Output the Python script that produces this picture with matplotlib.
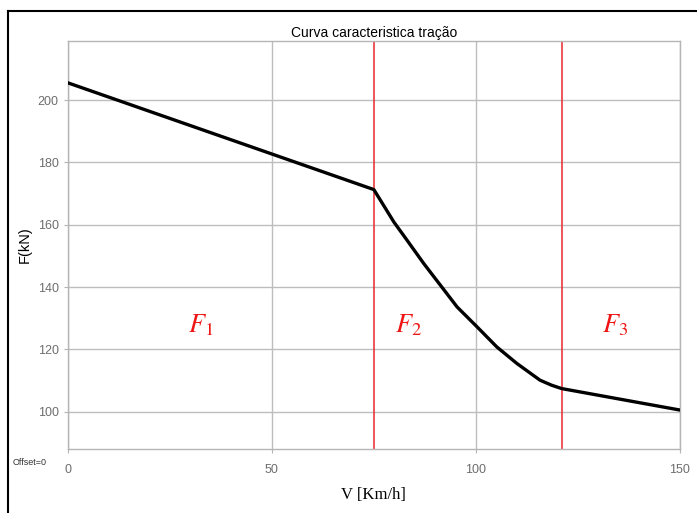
import matplotlib
matplotlib.use('Agg')
import matplotlib.pyplot as plt
from matplotlib.lines import Line2D

# traction curve
speed = [0, 75, 77.5, 79.9, 83.1, 87.2, 91.3, 95.4, 100.3, 105.1, 110.0, 115.7, 118.5, 121, 150]
force = [205.6, 171.3, 166.0, 160.9, 155.1, 147.6, 140.6, 133.6, 127.2, 120.8, 115.5, 110.1, 108.5, 107.4, 100.5]

limits = [75, 121]  # region boundaries (km/h)
region_labels = ['$F_1$', '$F_2$', '$F_3$']
region_x = [32.5, 83.4, 134]
region_y = 127.8

xticks = [0, 50, 100, 150]
yticks = [100, 120, 140, 160, 180, 200]

plt.rcParams['font.family'] = ['Liberation Sans', 'DejaVu Sans']
plt.rcParams['mathtext.fontset'] = 'stix'

fig = plt.figure(figsize=(6.97, 5.13), dpi=100)
ax = fig.add_axes([0.0971, 0.1248, 0.8785, 0.7952])

ax.plot(speed, force, color='black', linewidth=2.4, zorder=3,
        solid_joinstyle='round')
for lim in limits:
    ax.axvline(lim, color='#e8282d', linewidth=1.1, zorder=2)

for lab, x in zip(region_labels, region_x):
    ax.text(x, region_y, lab, color='#f01515', fontsize=19,
            ha='center', va='center')

ax.set_xlim(0, 150)
ax.set_ylim(88, 219)
ax.set_xticks(xticks)
ax.set_yticks(yticks)
ax.grid(True, color='#bdbdbd', linewidth=1.0)
ax.set_axisbelow(True)
for s in ax.spines.values():
    s.set_color('#b5b5b5')
    s.set_linewidth(1.0)
ax.tick_params(colors='#b5b5b5', labelcolor='#6e6e6e', labelsize=9, length=3)
ax.tick_params(axis='x', pad=8)

ax.set_title('Curva caracteristica tração', fontsize=10, pad=3)
ax.set_ylabel('F(kN)', fontsize=10.5, labelpad=4)
ax.set_xlabel('V [Km/h]', fontsize=12, family=['Liberation Serif'], labelpad=8)

fig.text(0.018, 0.094, 'Offset=0', fontsize=6.5, color='#333333')

# outer frame (left and top edges only)
fig.add_artist(Line2D([0.0115, 0.0115], [0, 0.9786], transform=fig.transFigure,
                      color='black', linewidth=1.5))
fig.add_artist(Line2D([0.0115, 1.0], [0.9786, 0.9786], transform=fig.transFigure,
                      color='black', linewidth=1.5))

fig.savefig('out.png', dpi=100)
